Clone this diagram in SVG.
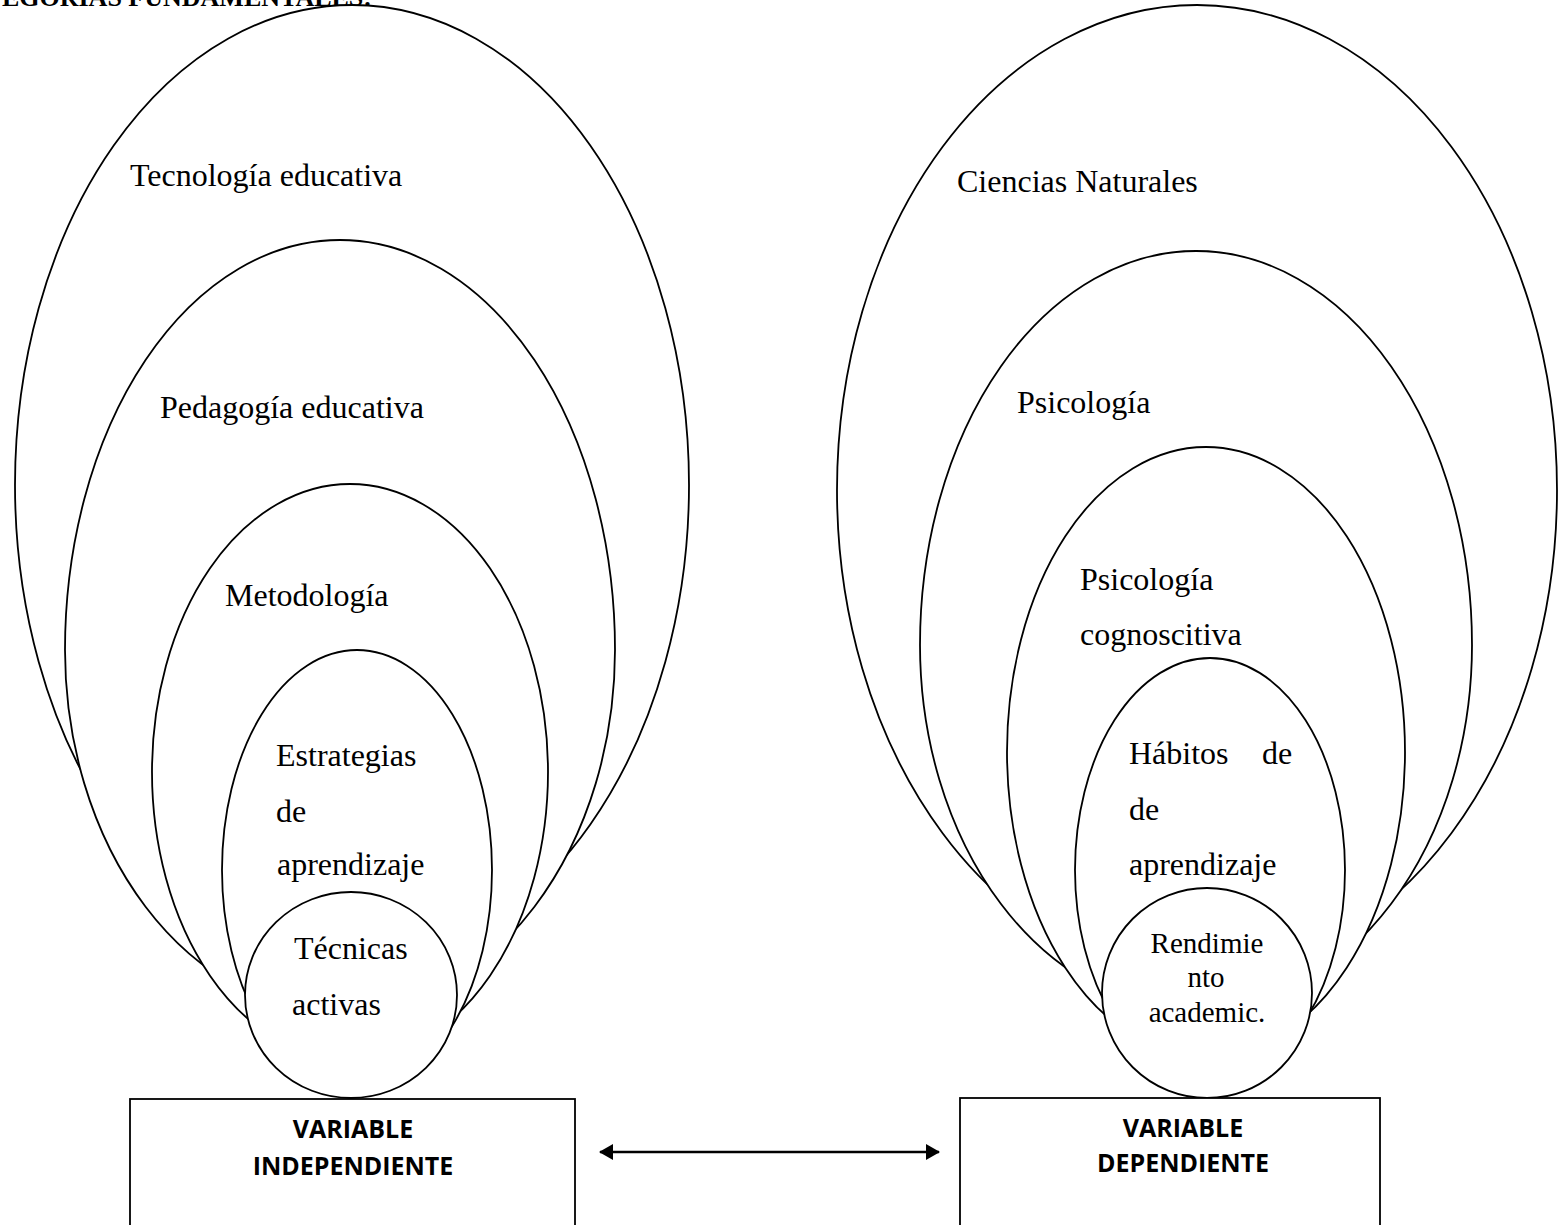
<svg xmlns="http://www.w3.org/2000/svg" width="1564" height="1225" viewBox="0 0 1564 1225">
<style>
.sh{fill:#fff;stroke:#000;stroke-width:1.8}
.t{font-family:"Liberation Serif","Times New Roman",serif;font-size:32px;fill:#000}
.ts{font-family:"Liberation Serif","Times New Roman",serif;font-size:29px;fill:#000}
.b{font-family:"Open Sans","Liberation Sans",sans-serif;font-weight:bold;font-size:25px;fill:#000}
.title{font-family:"Liberation Serif","Times New Roman",serif;font-weight:bold;font-size:26px;fill:#000}
</style>
<defs>
<marker id="ah" viewBox="0 0 14 16" refX="13" refY="8" markerWidth="14" markerHeight="16" markerUnits="userSpaceOnUse" orient="auto-start-reverse">
<path d="M0,0 L14,8 L0,16 Z" fill="#000"/>
</marker>
</defs>
<rect width="1564" height="1225" fill="#fff"/>
<text class="title" x="372" y="6" text-anchor="end">CATEGORÍAS FUNDAMENTALES:</text>

<g id="tecnologia"><ellipse class="sh" cx="352" cy="485" rx="337" ry="480"/></g>
<g id="pedagogia"><path class="sh" d="M65,650 A275,410 0 0 1 615,650 A275,363 0 0 1 65,650 Z"/></g>
<g id="metodologia"><ellipse class="sh" cx="350" cy="772" rx="198" ry="288"/></g>
<g id="estrategias"><ellipse class="sh" cx="357" cy="870" rx="135" ry="220"/></g>
<g id="tecnicas"><ellipse class="sh" cx="351" cy="995" rx="106" ry="103"/></g>

<g id="ciencias"><ellipse class="sh" cx="1197" cy="490" rx="360" ry="485"/></g>
<g id="psicologia"><path class="sh" d="M920,645 A276,394 0 0 1 1472,645 A276,366 0 0 1 920,645 Z"/></g>
<g id="cognoscitiva"><ellipse class="sh" cx="1206" cy="752" rx="199" ry="305"/></g>
<g id="habitos"><ellipse class="sh" cx="1210" cy="870" rx="135" ry="212"/></g>
<g id="rendimiento"><ellipse class="sh" cx="1207" cy="993" rx="105" ry="105"/></g>

<g id="labels">
<text class="t" x="130" y="186">Tecnología educativa</text>
<text class="t" x="160" y="418">Pedagogía educativa</text>
<text class="t" x="225" y="606">Metodología</text>
<text class="t" x="276" y="766">Estrategias</text>
<text class="t" x="276" y="822">de</text>
<text class="t" x="277" y="875">aprendizaje</text>
<text class="t" x="294" y="959">Técnicas</text>
<text class="t" x="292" y="1015">activas</text>

<text class="t" x="957" y="192">Ciencias Naturales</text>
<text class="t" x="1017" y="413">Psicología</text>
<text class="t" x="1080" y="590">Psicología</text>
<text class="t" x="1080" y="645">cognoscitiva</text>
<text class="t" y="764"><tspan x="1129">Hábitos</tspan><tspan x="1262">de</tspan></text>
<text class="t" x="1129" y="820">de</text>
<text class="t" x="1129" y="875">aprendizaje</text>
<text class="ts" x="1207" y="953" text-anchor="middle">Rendimie</text>
<text class="ts" x="1206" y="987" text-anchor="middle">nto</text>
<text class="ts" x="1207" y="1022" text-anchor="middle">academic.</text>
</g>

<g id="var-independiente">
<rect class="sh" x="130" y="1099" width="445" height="150"/>
<text class="b" x="353" y="1138" text-anchor="middle">VARIABLE</text>
<text class="b" x="353" y="1175" text-anchor="middle">INDEPENDIENTE</text>
</g>
<g id="var-dependiente">
<rect class="sh" x="960" y="1098" width="420" height="150"/>
<text class="b" x="1183" y="1137" text-anchor="middle">VARIABLE</text>
<text class="b" x="1183" y="1172" text-anchor="middle">DEPENDIENTE</text>
</g>

<g id="connectors">
<line x1="600" y1="1152" x2="939" y2="1152" stroke="#000" stroke-width="2.5" marker-start="url(#ah)" marker-end="url(#ah)"/>
</g>
</svg>
